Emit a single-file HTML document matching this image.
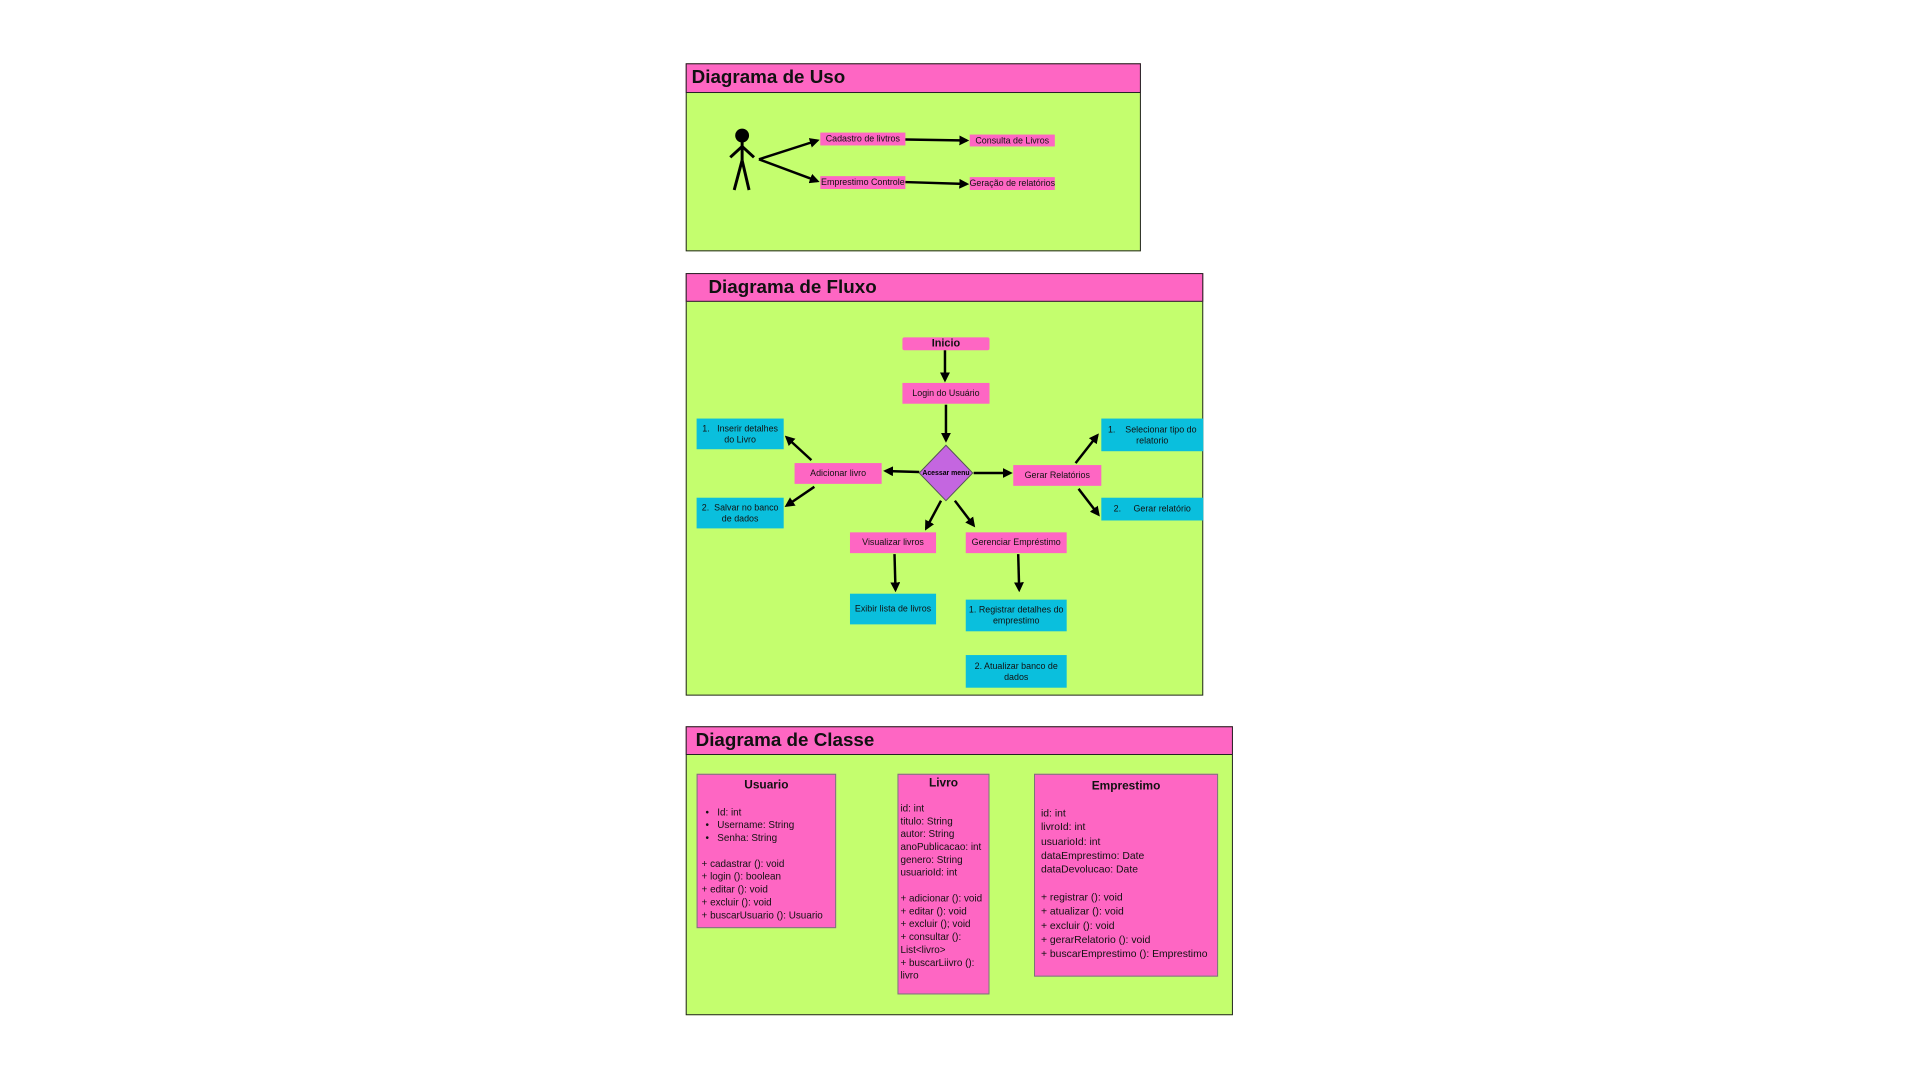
<!DOCTYPE html>
<html><head><meta charset="utf-8"><style>
body{margin:0;width:1920px;height:1080px;background:#fff;position:relative;overflow:hidden;font-family:"Liberation Sans","DejaVu Sans",sans-serif;color:#111}
#w{position:absolute;left:0;top:0;width:1920px;height:1080px;transform:scale(0.9895);transform-origin:0 0}
.a{position:absolute;box-sizing:border-box}
.fr{background:#c4fe6e;border:1.5px solid #222}
.hd{background:#fe66c3;border:1.5px solid #222;font-weight:bold;font-size:19px;line-height:28px;padding-left:5px}
.p{background:#fe66c3;font-size:9px;display:flex;align-items:center;justify-content:center;text-align:center;line-height:11px;white-space:nowrap}
.c{background:#0abfdd;font-size:9px;display:flex;align-items:center;justify-content:center;text-align:center;line-height:11px;white-space:nowrap}
.cl{background:#fe66c3;border:1px solid #777;font-size:10px;line-height:13px;padding:0 4px;white-space:nowrap}
.cl b{display:block;text-align:center;font-size:12px}
svg{position:absolute;left:0;top:0}
</style></head><body><div id="w">
<!-- Uso -->
<div class="a fr" style="left:693px;top:64px;width:460px;height:190px"></div>
<div class="a hd" style="left:693px;top:64px;width:460px;height:30px">Diagrama de Uso</div>
<div class="a p" style="left:829px;top:134px;width:86px;height:13px">Cadastro de livtros</div>
<div class="a p" style="left:980px;top:136px;width:86px;height:12px">Consulta de Livros</div>
<div class="a p" style="left:829px;top:178px;width:86px;height:13px">Emprestimo Controle</div>
<div class="a p" style="left:980px;top:179px;width:86px;height:13px">Geração de relatórios</div>
<!-- Fluxo -->
<div class="a fr" style="left:693px;top:276px;width:523px;height:427px"></div>
<div class="a hd" style="left:693px;top:276px;width:523px;height:29px;padding-left:22px">Diagrama de Fluxo</div>
<div class="a p" style="left:912px;top:341px;width:88px;height:13px;font-weight:bold;font-size:11px;border-radius:2px">Inicio</div>
<div class="a p" style="left:912px;top:387px;width:88px;height:21px">Login do Usuário</div>
<div class="a p" style="left:803px;top:468px;width:88px;height:21px">Adicionar livro</div>
<div class="a p" style="left:1024px;top:470px;width:89px;height:21px">Gerar Relatórios</div>
<div class="a c" style="left:704px;top:423px;width:88px;height:31px">1.&nbsp;&nbsp; Inserir detalhes<br>do Livro</div>
<div class="a c" style="left:704px;top:503px;width:88px;height:31px">2.&nbsp; Salvar no banco<br>de dados</div>
<div class="a c" style="left:1113px;top:423px;width:103px;height:33px">1.&nbsp;&nbsp;&nbsp; Selecionar tipo do<br>relatorio</div>
<div class="a c" style="left:1113px;top:503px;width:103px;height:23px">2.&nbsp;&nbsp;&nbsp;&nbsp; Gerar relatório</div>
<div class="a p" style="left:859px;top:538px;width:87px;height:21px">Visualizar livros</div>
<div class="a p" style="left:976px;top:538px;width:102px;height:21px">Gerenciar Empréstimo</div>
<div class="a c" style="left:859px;top:600px;width:87px;height:31px">Exibir lista de livros</div>
<div class="a c" style="left:976px;top:606px;width:102px;height:32px">1. Registrar detalhes do<br>emprestimo</div>
<div class="a c" style="left:976px;top:662px;width:102px;height:33px">2. Atualizar banco de<br>dados</div>
<!-- Classe -->
<div class="a fr" style="left:693px;top:734px;width:553px;height:292px"></div>
<div class="a hd" style="left:693px;top:734px;width:553px;height:29px;padding-left:9px">Diagrama de Classe</div>
<div class="a cl" style="left:704px;top:782px;width:141px;height:156px;padding-top:4px"><b>Usuario</b><div style="height:15px"></div>
<div style="padding-left:4px">•&nbsp;&nbsp; Id: int<br>•&nbsp;&nbsp; Username: String<br>•&nbsp;&nbsp; Senha: String</div><div style="height:13px"></div>
+ cadastrar (): void<br>+ login (): boolean<br>+ editar (): void<br>+ excluir (): void<br>+ buscarUsuario (): Usuario</div>
<div class="a cl" style="left:907px;top:782px;width:93px;height:223px;padding:2px 2px 0"><b>Livro</b><div style="height:13px"></div>
id: int<br>titulo: String<br>autor: String<br>anoPublicacao: int<br>genero: String<br>usuarioId: int<div style="height:13px"></div>
+ adicionar (): void<br>+ editar (): void<br>+ excluir (); void<br>+ consultar ():<br>List&lt;livro&gt;<br>+ buscarLiivro ():<br>livro</div>
<div class="a cl" style="left:1045px;top:782px;width:186px;height:205px;font-size:10.5px;line-height:14.2px;padding:4px 6px 0"><b>Emprestimo</b><div style="height:14px"></div>
id: int<br>livroId: int<br>usuarioId: int<br>dataEmprestimo: Date<br>dataDevolucao: Date<div style="height:14px"></div>
+ registrar (): void<br>+ atualizar (): void<br>+ excluir (): void<br>+ gerarRelatorio (): void<br>+ buscarEmprestimo (): Emprestimo</div>
<svg width="1920" height="1080">
<defs><marker id="m" markerWidth="4" markerHeight="4" refX="3" refY="2" orient="auto" markerUnits="strokeWidth"><path d="M0,0 L4,2 L0,4z" fill="#000"/></marker></defs>
<g stroke="#000" stroke-width="2.5" fill="none" marker-end="url(#m)">
<line x1="767" y1="161" x2="826" y2="142"/><line x1="767" y1="161" x2="826" y2="183"/>
<line x1="915" y1="141" x2="977" y2="142"/><line x1="915" y1="184" x2="977" y2="186"/>
<line x1="955" y1="354" x2="955" y2="384"/><line x1="956" y1="409" x2="956" y2="445"/>
<line x1="929" y1="477" x2="895" y2="476"/><line x1="984" y1="478" x2="1021" y2="478"/>
<line x1="820" y1="465" x2="795" y2="442"/><line x1="823" y1="492" x2="795" y2="511"/>
<line x1="1087" y1="468" x2="1109" y2="440"/><line x1="1090" y1="494" x2="1110" y2="520"/>
<line x1="951" y1="506" x2="936" y2="534"/><line x1="965" y1="506" x2="984" y2="531"/>
<line x1="904" y1="560" x2="905" y2="596"/><line x1="1029" y1="560" x2="1030" y2="596"/>
</g>
<polygon points="956,450 983,478 956,506 929,478" fill="#c466e0" stroke="#555" stroke-width="1"/>
<text x="956" y="480" font-size="7" font-weight="bold" text-anchor="middle" font-family="Liberation Sans,sans-serif">Acessar menu</text>
<g stroke="#000" stroke-width="3" fill="none">
<circle cx="750" cy="137" r="7" fill="#000" stroke="none"/>
<line x1="750" y1="143" x2="750" y2="162"/>
<line x1="750" y1="148" x2="738" y2="159"/><line x1="750" y1="148" x2="762" y2="159"/>
<line x1="750" y1="162" x2="742" y2="192"/><line x1="750" y1="162" x2="757" y2="192"/>
</g>
</svg>
</div></body></html>
